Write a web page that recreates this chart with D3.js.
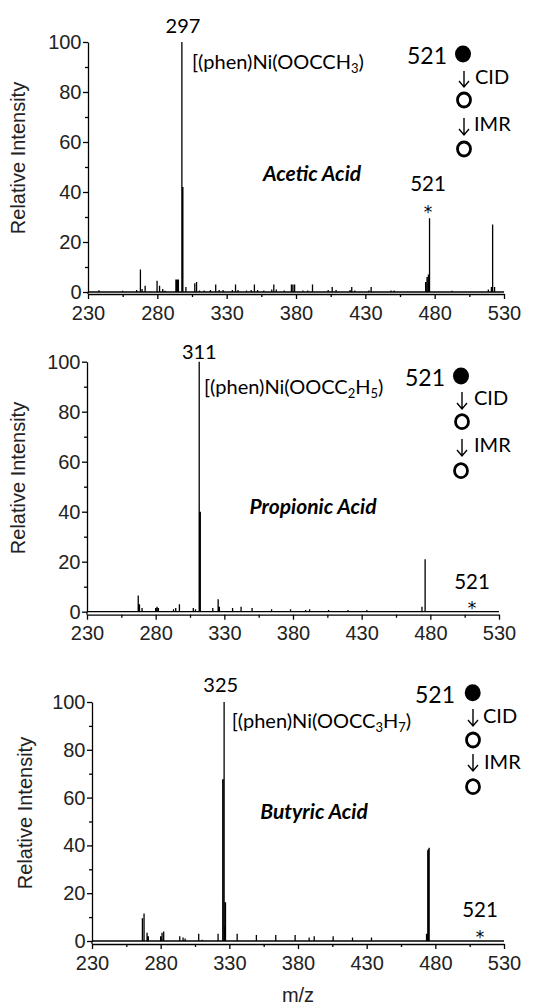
<!DOCTYPE html>
<html><head><meta charset="utf-8">
<script src="https://cdn.jsdelivr.net/npm/d3@7"></script>
<style>
html,body{margin:0;padding:0;background:#fff;}
svg{display:block;}
.tick text{font-family:"Liberation Sans",Arial,sans-serif;font-size:20px;fill:#222;}
.ann{font-family:Lato,"Open Sans",sans-serif;fill:#000;}
</style></head>
<body>
<svg id="chart" width="556" height="1005"></svg>
<script>
// ---------- data ----------
const xTicks = [230, 280, 330, 380, 430, 480, 530];
const xMinorTicks = [255, 305, 355, 405, 455, 505];
const yTicks = [0, 20, 40, 60, 80, 100];
const yMinorTicks = [10, 30, 50, 70, 90];

const aceticMz  = [237.9,254.9,265.1,267.8,269,271.2,279.8,281.6,283.9,285.5,293.4,294.3,295.2,297.7,298.4,300.6,307,308.3,310.4,313.8,318.3,322.1,324.6,327.4,334.1,336.4,338.2,344.3,347.7,350,352.3,356.8,362.5,364,365.8,371.5,376.7,377.8,379,385,388.5,391.9,403.2,406.1,408.9,419,420.2,422.4,432.6,434.2,448.5,450.8,473.5,474.5,475.5,476.3,492.6,518.7,520.9,521.8,523.2];
const aceticInt = [0.7,0.5,0.8,9,1.2,2.5,4.5,2.5,1.2,0.5,5,5,5,100,42,2,3.5,4,0.6,0.6,0.8,3,0.8,0.8,0.8,3,0.8,0.6,0.8,3,0.8,0.6,1,3,1,0.6,3,3,3,0.6,0.6,3,0.8,2,0.8,0.8,2,0.6,0.6,2,0.6,0.6,4,6,7,29.5,0.5,1,2,27,2];

const propionicMz  = [267.3,268.2,270.1,280,281,282,293,294.6,297.3,307.4,309,311.7,312.5,321.6,325.5,326.4,336,342.2,350.2,364.4,378.2,389.2,392.1,405.9,420.1,433.8,473.9,476.2];
const propionicInt = [6.5,3,1.5,1.5,2,1.5,1,1.5,3,1.5,1,100,40,1.5,5,2,1.5,2,1.5,1,1,0.7,1,0.7,0.7,0.7,2,21];

const butyricMz  = [266.7,267.9,270.1,271,280,281,282.2,293.9,296.3,297.8,307.7,310.2,321.8,325.2,326.2,326.8,327.2,335.7,349.7,363.8,377.9,388.1,391.8,405.6,419.7,433.5,473.6,474.5,475,475.5];
const butyricInt = [9.5,11.5,3.5,2,2,3.5,4,2,1.5,1,3,0.5,3,67.7,100,6,16.2,3,2.5,2.5,2.5,1.5,2,2,1.5,1.5,3,38,38.5,39];

const compoundNames = ["Acetic Acid", "Propionic Acid", "Butyric Acid"];
const basePeakLabels = ["297", "311", "325"];
const ionFormulas = [
  [["[(phen)Ni(OOCCH", 0], ["3", 1], [")", 0]],
  [["[(phen)Ni(OOCC", 0], ["2", 1], ["H", 0], ["5", 1], [")", 0]],
  [["[(phen)Ni(OOCC", 0], ["3", 1], ["H", 0], ["7", 1], [")", 0]]
];
const precursorLabel = "521";
const stepLabels = ["CID", "IMR"];
const yAxisTitle = "Relative Intensity";
const xAxisTitle = "m/z";

// ---------- layout (pixels) ----------
const layout = [
  { left: 88, right: 504, top: 42, bottom: 292, axisOff: 2, yTitle: [18, 158],
    peakLbl: [183, 33], formula: [192, 69], name: [312, 181],
    starLbl: [428, 191], star: [428, 218],
    leg: { numEnd: 447, numY: 63.5, fc: [463, 54], a1: [464, 71, 87], t1: [475, 84], c1: [464, 100],
           a2: [464, 118, 135], t2: [474, 131], c2: [464, 149] } },
  { left: 87, right: 499, top: 361.7, bottom: 611.7, axisOff: 3, yTitle: [18, 478],
    peakLbl: [199.3, 358.5], formula: [204, 394], name: [313, 514],
    starLbl: [472, 588.5], star: [472, 614],
    leg: { numEnd: 445, numY: 385.5, fc: [461, 376], a1: [462, 392, 409], t1: [474, 405], c1: [462, 421.7],
           a2: [462, 439, 456], t2: [474, 452], c2: [461, 470.7] } },
  { left: 92, right: 504, top: 702, bottom: 941, axisOff: 3, yTitle: [25, 813],
    peakLbl: [220.7, 692], formula: [231.7, 728], name: [314, 819],
    starLbl: [480, 917], star: [480, 943],
    leg: { numEnd: 455, numY: 702.5, fc: [472.7, 692.7], a1: [473, 709, 726], t1: [483, 723], c1: [473, 740],
           a2: [473, 754, 771], t2: [484, 769], c2: [473, 786.7] } }
];

const spectra = [
  { mz: aceticMz, inten: aceticInt },
  { mz: propionicMz, inten: propionicInt },
  { mz: butyricMz, inten: butyricInt }
];

const svg = d3.select("#chart");

spectra.forEach((sp, i) => {
  const L = layout[i];
  const x = d3.scaleLinear().domain([230, 530]).range([L.left, L.right]);
  const y = d3.scaleLinear().domain([0, 100]).range([L.bottom, L.top]);
  const g = svg.append("g");

  // spectrum sticks
  const pts = d3.zip(sp.mz, sp.inten).sort((a, b) => a[0] - b[0]);
  const path = d3.path();
  path.moveTo(x(230), y(0));
  pts.forEach(([m, v]) => { path.lineTo(x(m), y(0)); path.lineTo(x(m), y(v)); path.lineTo(x(m), y(0)); });
  path.lineTo(x(530), y(0));
  g.append("path").attr("d", path.toString()).attr("fill", "none").attr("stroke", "#000")
    .attr("stroke-width", 1.3).attr("stroke-linejoin", "miter");

  // x axis
  g.append("g").attr("transform", `translate(0,${L.bottom + L.axisOff})`)
    .call(d3.axisBottom(x).tickValues(xTicks).tickSize(5).tickSizeOuter(0).tickPadding(6.5).tickFormat(d3.format("d")));
  g.append("g").attr("transform", `translate(0,${L.bottom + L.axisOff})`)
    .call(d3.axisBottom(x).tickValues(xMinorTicks).tickSize(3).tickSizeOuter(0).tickFormat(""))
    .select(".domain").remove();

  // y axis
  g.append("g").attr("transform", `translate(${L.left},0)`)
    .call(d3.axisLeft(y).tickValues(yTicks).tickSize(5).tickSizeOuter(0).tickPadding(1.5).tickFormat(d3.format("d")));
  g.append("g").attr("transform", `translate(${L.left},0)`)
    .call(d3.axisLeft(y).tickValues(yMinorTicks).tickSize(3).tickSizeOuter(0).tickFormat(""))
    .select(".domain").remove();
  g.append("line").attr("x1", L.left).attr("x2", L.left).attr("y1", y(0)).attr("y2", L.bottom + L.axisOff)
    .attr("stroke", "#000").attr("stroke-width", 1.3);
  g.selectAll(".domain, .tick line").attr("stroke", "#000").attr("stroke-width", 1.3);

  // y title
  g.append("text").attr("transform", `translate(${L.yTitle[0]},${L.yTitle[1]}) rotate(-90)`)
    .attr("text-anchor", "middle").attr("dy", "0.35em")
    .style("font-family", '"Liberation Sans",Arial,sans-serif').style("font-size", "20px").style("fill", "#222")
    .text(yAxisTitle);

  // base peak label
  g.append("text").attr("class", "ann").attr("x", L.peakLbl[0]).attr("y", L.peakLbl[1])
    .attr("text-anchor", "middle").style("font-size", "20px").text(basePeakLabels[i]);

  // formula
  const ft = g.append("text").attr("class", "ann").attr("x", L.formula[0]).attr("y", L.formula[1]).style("font-size", "20px");
  let sub = false;
  ionFormulas[i].forEach(([s, isSub]) => {
    const ts = ft.append("tspan").text(s);
    if (isSub && !sub) { ts.attr("dy", 4).style("font-size", "13px"); sub = true; }
    else if (!isSub && sub) { ts.attr("dy", -4); sub = false; }
  });

  // compound name
  g.append("text").attr("class", "ann").attr("x", L.name[0]).attr("y", L.name[1])
    .attr("text-anchor", "middle").style("font-size", "21px").style("font-weight", "bold").style("font-style", "italic")
    .text(compoundNames[i]);

  // precursor star label
  g.append("text").attr("class", "ann").attr("x", L.starLbl[0]).attr("y", L.starLbl[1])
    .attr("text-anchor", "middle").style("font-size", "20.5px").text(precursorLabel);
  g.append("text").attr("x", L.star[0]).attr("y", L.star[1])
    .attr("text-anchor", "middle").style("font-family", '"DejaVu Sans",sans-serif').style("font-size", "17px")
    .style("fill", "#000").text("*");

  // legend scheme
  const Lg = L.leg;
  g.append("text").attr("class", "ann").attr("x", Lg.numEnd).attr("y", Lg.numY)
    .attr("text-anchor", "end").style("font-size", "23px").text(precursorLabel);
  g.append("ellipse").attr("cx", Lg.fc[0]).attr("cy", Lg.fc[1]).attr("rx", 8).attr("ry", 8.5).attr("fill", "#000");
  [[Lg.a1, Lg.t1, stepLabels[0]], [Lg.a2, Lg.t2, stepLabels[1]]].forEach(([a, t, lbl]) => {
    const p = d3.path();
    p.moveTo(a[0], a[1]); p.lineTo(a[0], a[2]);
    p.moveTo(a[0] - 5, a[2] - 6); p.lineTo(a[0], a[2]); p.lineTo(a[0] + 5, a[2] - 6);
    g.append("path").attr("d", p.toString()).attr("fill", "none").attr("stroke", "#000").attr("stroke-width", 1.4);
    g.append("text").attr("class", "ann").attr("x", t[0]).attr("y", t[1]).style("font-size", "20px").text(lbl);
  });
  [Lg.c1, Lg.c2].forEach(c => {
    g.append("ellipse").attr("cx", c[0]).attr("cy", c[1]).attr("rx", 6.5).attr("ry", 7)
      .attr("fill", "none").attr("stroke", "#000").attr("stroke-width", 2.8);
  });
});

// x title
svg.append("text").attr("x", 298).attr("y", 1002).attr("text-anchor", "middle")
  .style("font-family", '"Liberation Sans",Arial,sans-serif').style("font-size", "20px").style("fill", "#222")
  .text(xAxisTitle);
</script>
</body></html>
